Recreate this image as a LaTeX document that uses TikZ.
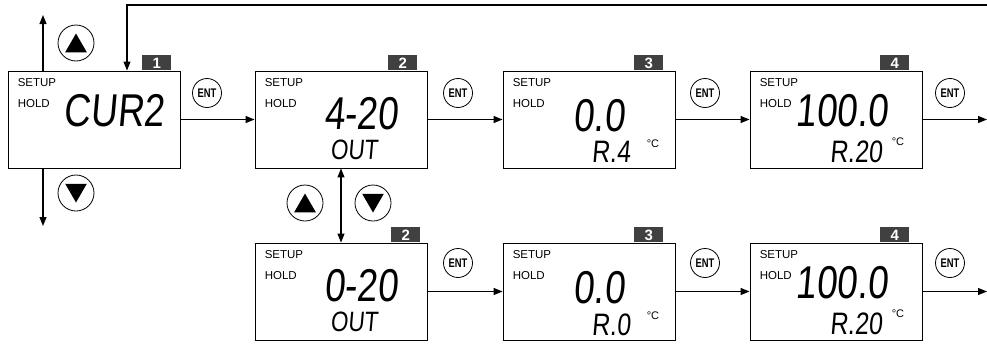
\documentclass[tikz,border=0pt]{standalone}
\usepackage{fontspec}
\setmainfont{Liberation Sans}
\newfontfamily\lcd{Liberation Sans}[FakeSlant=0.09,FakeStretch=0.8]
\newfontfamily\entfont{Liberation Sans}[FakeStretch=0.75]
\usetikzlibrary{arrows.meta,shapes.geometric}

\begin{document}
\begin{tikzpicture}[x=1pt,y=-1pt,
  every node/.style={inner sep=0pt},
  lcdbox/.style={draw,line width=0.9pt,minimum width=172pt,minimum height=97pt},
  tab/.style={fill=black!75,text=white,font=\bfseries\fontsize{15}{15}\selectfont,
    minimum width=29pt,minimum height=15pt,anchor=south east},
  entkey/.style={draw,circle,line width=0.8pt,minimum size=29pt,
    font=\entfont\bfseries\fontsize{12.5}{12.5}\selectfont},
  arrowkey/.style={draw,circle,line width=0.8pt,minimum size=36pt},
  tri/.style={regular polygon,regular polygon sides=3,fill=black,minimum size=25pt},
  big/.style={font=\lcd\fontsize{46}{46}\selectfont},
  sub/.style={font=\lcd\fontsize{31}{31}\selectfont},
  lbl/.style={font=\fontsize{11.5}{11.5}\selectfont,anchor=west},
  deg/.style={font=\fontsize{11}{11}\selectfont},
  arr/.style={line width=1.1pt,-{Triangle[length=9pt,width=7pt]}},
  arr2/.style={line width=1.1pt,{Triangle[length=9pt,width=7pt]}-{Triangle[length=9pt,width=7pt]}}]
\useasboundingbox (0,0) rectangle (987,343);

% displays
\node[lcdbox] (b1) at (94,119.5) {};
\node[lcdbox] (b2) at (341,119.5) {};
\node[lcdbox] (b3) at (589,119.5) {};
\node[lcdbox] (b4) at (836,119.5) {};
\node[lcdbox] (c2) at (341,291.5) {};
\node[lcdbox] (c3) at (589,291.5) {};
\node[lcdbox] (c4) at (836,291.5) {};

\node[tab] (t1) at ([xshift=-9pt]b1.north east) {1};
\node[tab] (t2) at ([xshift=-10pt]b2.north east) {2};
\node[tab] (t3) at ([xshift=-12pt]b3.north east) {3};
\node[tab] (t4) at ([xshift=-13pt]b4.north east) {4};
\node[tab] (u2) at ([xshift=-7pt]c2.north east) {2};
\node[tab] (u3) at ([xshift=-12pt]c3.north east) {3};
\node[tab] (u4) at ([xshift=-13pt]c4.north east) {4};

\foreach \b in {b1,b2,b3,b4,c2,c3,c4}{
  \node[lbl] (\b-setup) at ([xshift=10pt,yshift=-12pt]\b.north west) {SETUP};
  \node[lbl] (\b-hold) at ([xshift=10pt,yshift=-33pt]\b.north west) {HOLD};
}

% readings
\node[big] (cur) at (114,111) {CUR2};
\node[big] (r420) at (361,113.5) {4-20};
\node[sub,font=\lcd\fontsize{28}{28}\selectfont] (out1) at (354,150) {OUT};
\node[big] (zero1) at (599,115.5) {0.0};
\node[sub] (ra4) at (611,152) {R.4};
\node[deg] (dg1) at (653,144) {°C};
\node[big] (hund1) at (842,111) {100.0};
\node[sub] (ra20a) at (856,152) {R.20};
\node[deg] (dg2) at (898,142) {°C};

\node[big] (r020) at (361,285.5) {0-20};
\node[sub,font=\lcd\fontsize{28}{28}\selectfont] (out2) at (354,322) {OUT};
\node[big] (zero2) at (599,287.5) {0.0};
\node[sub] (ra0) at (611,324.5) {R.0};
\node[deg] (dg3) at (653,316) {°C};
\node[big] (hund2) at (842,283) {100.0};
\node[sub] (ra20b) at (856,324) {R.20};
\node[deg] (dg4) at (898,314) {°C};

% keys
\node[entkey] (e1) at (207,93) {ENT};
\node[entkey] (e2) at (458,93) {ENT};
\node[entkey] (e3) at (705,93) {ENT};
\node[entkey] (e4) at (950,93) {ENT};
\node[entkey] (f2) at (458,263) {ENT};
\node[entkey] (f3) at (705,263) {ENT};
\node[entkey] (f4) at (950,263) {ENT};

\node[arrowkey] (up1) at (76,43) {};
\node[tri] (up1-tri) at (76,46) {};
\node[arrowkey] (dn1) at (76,193) {};
\node[tri,shape border rotate=180] (dn1-tri) at (76,190) {};
\node[arrowkey] (up2) at (305,203) {};
\node[tri] (up2-tri) at (305,206) {};
\node[arrowkey] (dn2) at (373,203) {};
\node[tri,shape border rotate=180] (dn2-tri) at (373,200) {};

% connections
\coordinate (upend) at (43,15);
\coordinate (dnend) at (43,226);
\coordinate (back) at (987,5);
\coordinate (end1) at (987,119.5);
\coordinate (end2) at (987,291.5);

\draw[arr] (b1.north -| upend) -- (upend);
\draw[arr] (b1.south -| dnend) -- (dnend);
\draw[arr] (back) -| ([xshift=33pt]b1.north);
\draw[arr] (b1) -- (b2);
\draw[arr] (b2) -- (b3);
\draw[arr] (b3) -- (b4);
\draw[arr] (b4) -- (end1);
\draw[arr2] (b2.south) -- (c2.north);
\draw[arr] (c2) -- (c3);
\draw[arr] (c3) -- (c4);
\draw[arr] (c4) -- (end2);
\end{tikzpicture}
\end{document}
